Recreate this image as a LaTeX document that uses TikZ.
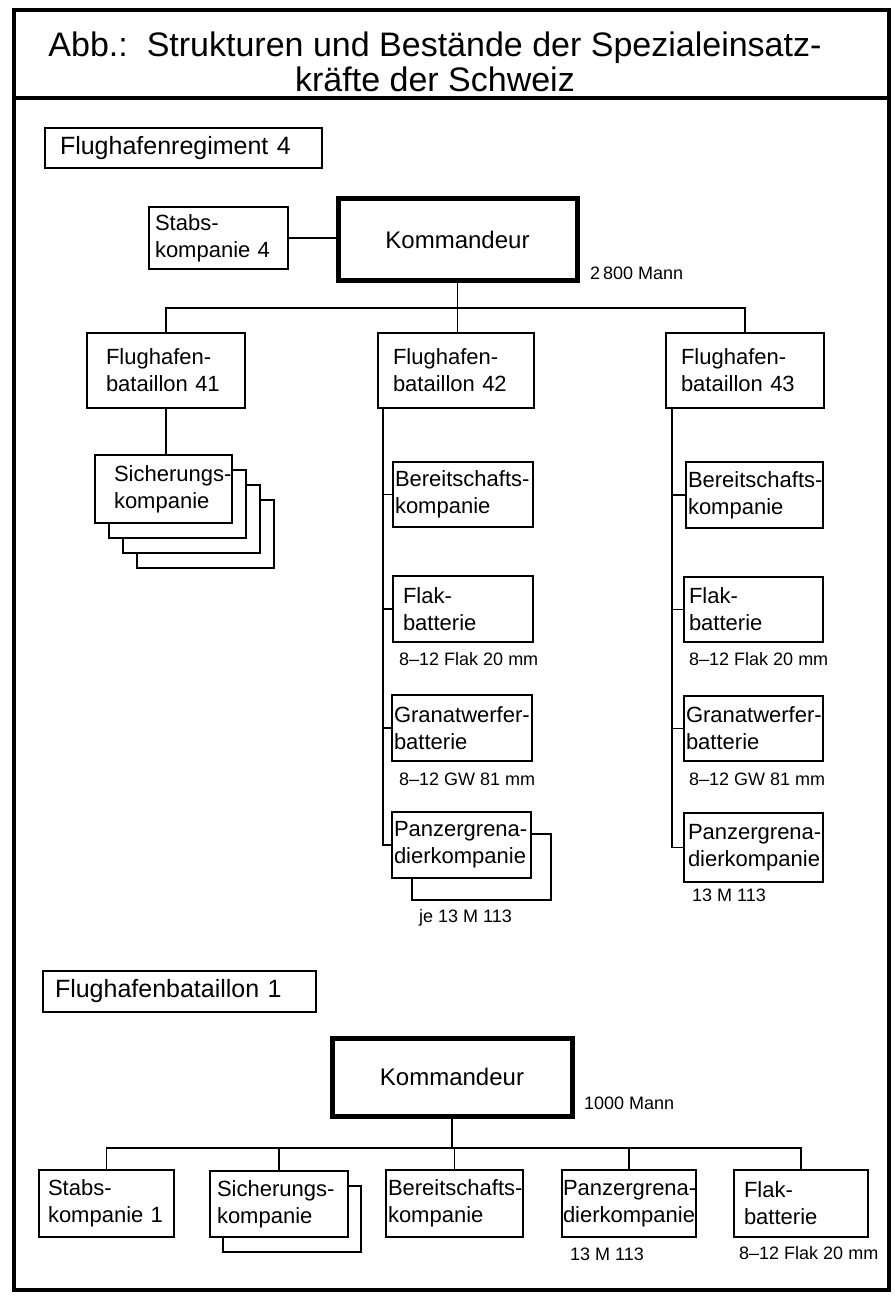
\documentclass[tikz,border=0pt]{standalone}
\usepackage{fontspec}
\setmainfont{Liberation Sans}
\hyphenpenalty=10000
\exhyphenpenalty=10000
\begin{document}
\begin{tikzpicture}[x=1pt, y=-1pt,
  frame/.style={line width=4pt},
  unit/.style n args={3}{draw, line width=2.2pt, anchor=north west, align=left,
    outer sep=0pt, inner ysep=0pt, text width=#1, minimum height=#2, inner xsep=#3,
    font=\fontsize{22}{27}\selectfont},
  chief/.style={draw, line width=5pt, anchor=north west, outer sep=0pt,
    font=\fontsize{24}{28}\selectfont},
  note/.style={anchor=west, inner sep=0pt, font=\fontsize{18}{20}\selectfont},
  link/.style={line width=1.8pt}]
\useasboundingbox (0,0) rectangle (894,1297);
\fill[white] (0,0) rectangle (894,1297);
% title
\draw[frame] (14,10) rectangle (889,1290);
\draw[frame] (14,98) -- (889,98);
\node[align=center, font=\fontsize{34}{35}\selectfont] (title) at (435,62) {Abb.:\ \ Strukturen und Bestände der Spezialeinsatz-\\kräfte der Schweiz};
% Flughafenregiment 4
\node[unit={247pt}{40pt}{15pt}, font=\fontsize{25}{28}\selectfont] (reg4) at (45,128) {Flughafenregiment 4};
\node[unit={127pt}{62pt}{6pt}] (stabs4) at (149,207) {Stabs-\\kompanie 4};
\node[chief, minimum width=239pt, minimum height=81pt] (kdr4) at (338,199) {Kommandeur};
\node[note] (men4) at (590,273) {2\,800 Mann};
\node[unit={120pt}{75pt}{19pt}] (bat41) at (87,333) {Flughafen-\\bataillon 41};
\node[unit={126pt}{75pt}{15pt}] (bat42) at (378,333) {Flughafen-\\bataillon 42};
\node[unit={128pt}{75pt}{15pt}] (bat43) at (666,333) {Flughafen-\\bataillon 43};
\coordinate (bus4) at ([yshift=-28pt]kdr4.south);
\draw[link] (stabs4) -- (stabs4 -| kdr4.west);
\draw[link] (kdr4.south) -- (bus4) -- (bus4 |- bat42.north);
\draw[link] (bat41.north) |- (bus4) -| (bat43.north);
% Bataillon 41
\foreach \k in {3,2,1}
  \node[unit={123pt}{68pt}{7pt}, fill=white] (sich41\k) at (95+14*\k, 455+15*\k) {};
\node[unit={99pt}{68pt}{19pt}, fill=white] (sich41) at (95,455) {Sicherungs-\\kompanie};
\draw[link] (bat41.south) -- (bat41.south |- sich41.north);
% Bataillon 42
\coordinate (sp42) at ([xshift=5pt]bat42.south west);
\node[unit={136pt}{65pt}{2pt}] (bereit42) at (393,462) {Bereitschafts-\\kompanie};
\node[unit={120pt}{66pt}{10pt}] (flak42) at (393,576) {Flak-\\batterie};
\node[note] (ammo42a) at (399,659) {8--12 Flak 20 mm};
\node[unit={136pt}{66pt}{2pt}] (granat42) at (392,695) {Granatwerfer-\\batterie};
\node[note] (ammo42b) at (399,779) {8--12 GW 81 mm};
\node[unit={135pt}{66pt}{2pt}, fill=white] (panz42b) at (412,834) {};
\node[unit={135pt}{66pt}{2pt}, fill=white] (panz42) at (392,812) {Panzergrena-\\dierkompanie};
\node[note] (tanks42) at (419,918) {je 13 M 113};
\foreach \n in {bereit42,flak42,granat42,panz42}
  \draw[link] (sp42) |- (\n.west);
% Bataillon 43
\coordinate (sp43) at ([xshift=6pt]bat43.south west);
\node[unit={133pt}{66pt}{2pt}] (bereit43) at (686,462) {Bereitschafts-\\kompanie};
\node[unit={129pt}{65pt}{5pt}] (flak43) at (684,577) {Flak-\\batterie};
\node[note] (ammo43a) at (689,659) {8--12 Flak 20 mm};
\node[unit={135pt}{65pt}{2pt}] (granat43) at (684,696) {Granatwerfer-\\batterie};
\node[note] (ammo43b) at (689,779) {8--12 GW 81 mm};
\node[unit={131pt}{69pt}{4pt}] (panz43) at (684,813) {Panzergrena-\\dierkompanie};
\node[note] (tanks43) at (692,895) {13 M 113};
\foreach \n in {bereit43,flak43,granat43,panz43}
  \draw[link] (sp43) |- (\n.west);
% Flughafenbataillon 1
\node[unit={249pt}{41pt}{12pt}, font=\fontsize{25}{28}\selectfont] (bat1) at (43,971) {Flughafenbataillon 1};
\node[chief, minimum width=240pt, minimum height=78pt] (kdr1) at (332,1038) {Kommandeur};
\node[note] (men1) at (584,1103) {1000 Mann};
\coordinate (bus1) at ([yshift=-32pt]kdr1.south);
\node[unit={117pt}{67pt}{9pt}] (stabs1) at (39,1170) {Stabs-\\kompanie 1};
\node[unit={134pt}{66pt}{2pt}, fill=white] (sich1b) at (223,1186) {};
\node[unit={124pt}{66pt}{7pt}, fill=white] (sich1) at (210,1171) {Sicherungs-\\kompanie};
\node[unit={133pt}{67pt}{2pt}] (bereit1) at (386,1170) {Bereitschafts-\\kompanie};
\node[unit={132pt}{67pt}{1pt}] (panz1) at (562,1170) {Panzergrena-\\dierkompanie};
\node[note] (tanks1) at (570,1254) {13 M 113};
\node[unit={114pt}{67pt}{10pt}] (flak1) at (734,1170) {Flak-\\batterie};
\node[note] (ammo1) at (739,1253) {8--12 Flak 20 mm};
\draw[link] (kdr1.south) -- (bus1);
\draw[link] (stabs1.north) |- (bus1) -| (flak1.north);
\foreach \n in {sich1,bereit1,panz1}
  \draw[link] (\n.north) -- (\n.north |- bus1);
\end{tikzpicture}
\end{document}
